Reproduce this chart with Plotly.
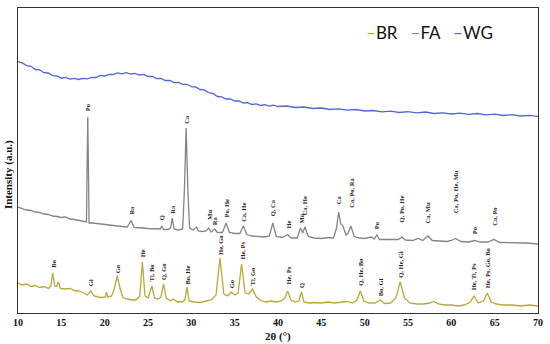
import plotly.graph_objects as go

# ---------------- data (2θ in degrees, intensity in a.u.) ----------------
wg_x = [10, 10.5, 11, 11.5, 12, 12.5, 13, 13.5, 14, 14.5, 15, 15.5, 16, 16.5, 17, 17.5, 18, 18.5, 19, 19.5,
        20, 20.5, 21, 21.5, 22, 22.5, 23, 23.5, 24, 24.5, 25, 25.5, 26, 26.5, 27, 27.5, 28, 28.5, 29, 29.5,
        30, 30.5, 31, 31.5, 32, 32.5, 33, 33.5, 34, 34.5, 35, 35.5, 36, 36.5, 37, 37.5, 38, 38.5, 39, 39.5,
        40, 41, 42, 43, 44, 45, 46, 47, 48, 49, 50, 51, 52, 53, 54, 55, 56, 57, 58, 59, 60, 61, 62, 63, 64,
        65, 66, 67, 68, 69, 70]
wg_y = [251.3, 250.1, 247.4, 246.7, 243.5, 243.1, 240.3, 240.0, 237.4, 237.0, 234.8, 235.6, 234.0, 234.7,
        233.5, 234.6, 234.1, 235.7, 235.5, 237.6, 237.0, 238.7, 238.5, 240.1, 239.2, 240.3, 239.0, 239.6,
        238.0, 238.6, 236.5, 236.6, 234.4, 234.6, 232.5, 232.6, 230.4, 230.5, 228.6, 228.7, 226.4, 226.0,
        223.5, 223.1, 220.4, 219.6, 216.5, 216.1, 214.0, 214.1, 212.0, 212.1, 210.0, 210.3, 208.5, 209.1,
        207.5, 208.3, 207.0, 207.8, 206.5, 207.0, 205.5, 206.0, 204.5, 205.0, 203.5, 204.2, 202.8, 203.5,
        202.0, 202.5, 201.2, 201.8, 200.5, 201.3, 200.1, 201.0, 199.5, 200.2, 199.0, 199.8, 198.7, 199.5,
        198.2, 198.9, 197.5, 198.3, 197.0, 197.7, 196.6]

fa_x = [10, 10.5, 11, 11.5, 12, 12.5, 13, 13.5, 14, 14.5, 15, 15.5, 16, 16.5, 17, 17.5, 17.9, 17.98, 18.05,
        18.12, 18.2, 18.6, 19, 19.5, 20, 20.5, 21, 21.5, 22, 22.6, 23.05, 23.4, 24, 24.5, 25, 25.5, 26, 26.4,
        26.6, 26.8, 27.3, 27.6, 27.8, 28.0, 28.5, 29.0, 29.2, 29.4, 29.6, 29.8, 30.2, 30.6, 30.8, 31.3, 31.7,
        32.0, 32.3, 32.7, 33.0, 33.6, 34.0, 34.4, 35.0, 35.6, 36.0, 36.4, 37.0, 37.7, 38.4, 39.0, 39.4, 39.8,
        40.5, 41.1, 41.5, 42.2, 42.6, 42.85, 43.1, 43.5, 44.2, 45.0, 45.8, 46.4, 46.75, 47.0, 47.25, 47.5,
        47.85, 48.1, 48.4, 48.8, 49.4, 50.0, 50.5, 50.8, 51.1, 51.4, 51.7, 52.4, 53.2, 53.9, 54.3, 54.7,
        55.5, 56.2, 56.7, 57.3, 57.8, 58.6, 59.5, 60.0, 60.5, 61.1, 62.0, 62.7, 63.3, 64.2, 64.9, 65.6,
        66.5, 67.5, 68.5, 69.3, 70]
fa_y = [106, 104.5, 103, 102.5, 101, 100.5, 99, 98.5, 97, 96.5, 95.5, 96, 94, 93.5, 92.5, 92, 91, 150, 196,
        150, 90, 90, 89.5, 89, 88.5, 88, 87.5, 87, 86.5, 86, 92.5, 85.5, 85.5, 85, 84.5, 84.5, 84, 84,
        87, 83.5, 83.5, 85, 95, 84, 83, 84, 123, 185, 123, 85, 83, 86, 82, 81.5, 82,
        85, 81, 84, 80.5, 80.5, 90, 80.5, 79.5, 79.5, 87, 78.5, 77, 76.5, 76, 77, 90, 76.5,
        75.5, 78.5, 75, 75, 85, 80, 86, 76.5, 75, 74.5, 75.5, 75, 85, 101, 89, 87,
        78, 80, 87, 76.5, 75, 74.5, 75, 76, 74, 78, 73.5, 73.5, 73, 73.5, 76, 73,
        72.5, 74.5, 72.5, 77, 72.5, 72, 71.5, 72.5, 74.5, 71.5, 71, 72.5, 71, 71, 73.5, 70.5,
        70.5, 70, 70, 69.5, 69]

br_x = [10, 10.5, 11, 11.5, 12, 12.5, 13, 13.5, 13.8, 14.0, 14.25, 14.45, 14.65, 14.9, 15.4, 16.0, 16.5,
        17.0, 17.5, 18.0, 18.4, 18.8, 19.3, 19.8, 20.1, 20.2, 20.35, 20.8, 21.1, 21.45, 21.8, 22.1, 22.6,
        23.1, 23.6, 24.05, 24.35, 24.65, 25.0, 25.45, 25.75, 26.2, 26.5, 26.8, 27.1, 27.6, 27.9, 28.4,
        28.9, 29.25, 29.5, 29.75, 30.3, 31.0, 31.7, 32.3, 32.85, 33.3, 33.75, 34.2, 34.6, 35.0, 35.4,
        35.8, 36.2, 36.6, 37.05, 37.5, 38.0, 38.6, 39.2, 39.8, 40.4, 40.8, 41.1, 41.5, 42.0, 42.4, 42.7,
        43.0, 43.6, 44.2, 45.0, 45.8, 46.5, 47.2, 48.0, 48.6, 49.1, 49.5, 49.9, 50.5, 51.2, 51.8, 52.3,
        53.0, 53.6, 54.1, 54.6, 55.2, 56.0, 56.8, 57.5, 58.0, 58.5, 59.2, 60.0, 60.8, 61.5, 62.2, 62.6,
        63.1, 63.7, 64.15, 64.6, 65.2, 66.0, 67.0, 68.0, 69.0, 70.0]
br_y = [30, 28, 29, 26.5, 27.5, 25.5, 26.5, 24.5, 27, 40, 27, 26.5, 31, 24.5, 24, 24.5, 22.5,
        22, 20.5, 18, 22, 17, 16, 15.5, 16, 21, 16, 17, 24, 37, 24, 15.5, 14,
        13, 13, 17, 51, 17, 15, 27, 15, 14, 16, 29, 15, 12, 14, 11,
        11, 13, 26, 12, 11, 10.5, 12, 13, 18, 55, 19, 17, 21, 18, 20,
        49, 20, 19, 24, 16, 12.5, 11, 12, 11, 12, 15, 22, 13, 11, 12, 21,
        11, 10, 10.5, 10, 11, 10, 10.5, 11.5, 10, 13, 22, 12, 10, 10, 13, 9.5,
        10, 15, 31, 15, 10, 9, 9, 10, 11.5, 9, 8, 8, 7, 8, 11, 17,
        10, 12, 20, 11, 9, 8, 8, 7, 8, 7]

# phase labels: position (2θ), label baseline height (a.u.), text
fa_lab_x = [18.05, 23.05, 26.6, 27.8, 29.4, 32.0, 32.7, 34.0, 36.0, 39.4, 41.1, 42.6, 43.1, 47.0, 48.4,
            51.4, 54.3, 57.3, 60.5, 62.7, 64.9]
fa_lab_y = [200, 96, 91, 97, 187, 91, 86, 93, 89, 95, 82, 87, 96, 107, 103,
            82, 89, 88, 98, 77, 85]
fa_lab_t = ["Po", "Ra", "Q", "Ra", "Ca", "Mu", "Ra", "Po, He", "Ca, He", "Q, Ca", "He", "Mu", "Ca, He", "Ca",
            "Ca, Po, Ra", "Po", "Q, Po, He", "Ca, Mu", "Ca, Po, He, Mu", "Po", "Ca, Po"]

br_lab_x = [14.0, 18.4, 21.45, 24.35, 25.45, 26.8, 29.5, 33.3, 34.6, 35.8, 37.05, 41.1, 42.7, 49.5, 51.8,
            54.1, 62.6, 64.15]
br_lab_y = [43, 25, 38, 54, 30, 31, 26, 56, 23, 51, 26, 26, 23, 25, 15, 33, 21, 23]
br_lab_t = ["Bo", "Gi", "Go", "He", "Tl, Bo", "Q, Go", "Bo, He", "He, Go", "Go", "He, Ps", "Tl, Go",
            "He, Ps", "Q", "Q, He, Bo", "Bo, Gi", "Q, He, Gi", "He, Tl, Ps", "He, Ps, Go, Bo"]

x_ticks = [10, 15, 20, 25, 30, 35, 40, 45, 50, 55, 60, 65, 70]

# ---------------- styling ----------------
C_BR = "#b9a93a"
C_FA = "#858585"
C_WG = "#5566d6"
SERIF = "Liberation Serif"

fig = go.Figure()
fig.add_trace(go.Scatter(x=br_x, y=br_y, mode="lines", name="BR", line=dict(color=C_BR, width=1.3)))
fig.add_trace(go.Scatter(x=fa_x, y=fa_y, mode="lines", name="FA", line=dict(color=C_FA, width=1.3)))
fig.add_trace(go.Scatter(x=wg_x, y=wg_y, mode="lines", name="WG", line=dict(color=C_WG, width=1.3)))

ann = []
for xs, ys, ts, col in [(fa_lab_x, fa_lab_y, fa_lab_t, "#2a2a2a"), (br_lab_x, br_lab_y, br_lab_t, "#3a1a1a")]:
    for x, y, t in zip(xs, ys, ts):
        ann.append(dict(x=x, y=y, xref="x", yref="y", text=t, textangle=-90, showarrow=False,
                        xanchor="center", yanchor="bottom",
                        font=dict(family=SERIF, size=6.5, color=col, weight="bold")))

legend_txt = ("<span style='color:%s'>–</span>BR   <span style='color:%s'>–</span>FA   "
              "<span style='color:%s'>–</span>WG") % (C_BR, C_FA, C_WG)
ann.append(dict(x=(500 - 18) / 525, y=(313 - 33) / 305, xref="paper", yref="paper", text=legend_txt,
                showarrow=False, xanchor="right", yanchor="middle",
                font=dict(family="Lato", size=17, color="#111")))
ann.append(dict(x=(8 - 18) / 525, y=(313 - 175) / 305, xref="paper", yref="paper",
                text="Intensity (a.u.)", textangle=-90, showarrow=False, xanchor="center", yanchor="middle",
                font=dict(family=SERIF, size=11, color="#111", weight="bold")))
ann.append(dict(x=(281 - 18) / 525, y=(313 - 336) / 305, xref="paper", yref="paper",
                text="2θ (°)", showarrow=False, xanchor="center", yanchor="middle",
                font=dict(family=SERIF, size=11, color="#111", weight="bold")))

fig.update_layout(
    width=550, height=344,
    margin=dict(l=18, r=7, t=8, b=31),
    paper_bgcolor="white", plot_bgcolor="white",
    showlegend=False,
    annotations=ann,
    xaxis=dict(range=[10, 70], tickvals=x_ticks, ticktext=[str(v) for v in x_ticks],
               showgrid=False, zeroline=False, showline=True, mirror=True, linecolor="#333", linewidth=1,
               ticks="", ticklabelstandoff=0, ticklabeloverflow="allow",
               tickfont=dict(family=SERIF, size=10, color="#111", weight="bold")),
    yaxis=dict(range=[0, 305], showgrid=False, zeroline=False, showline=True, mirror=True, linecolor="#333",
               linewidth=1, showticklabels=False, ticks=""),
)

# remove the browser's default 8px page margin so the figure sits at the window's top-left corner
fig.write_html("out.html", config={"displayModeBar": False},
               post_script="document.body.style.margin='0';")
